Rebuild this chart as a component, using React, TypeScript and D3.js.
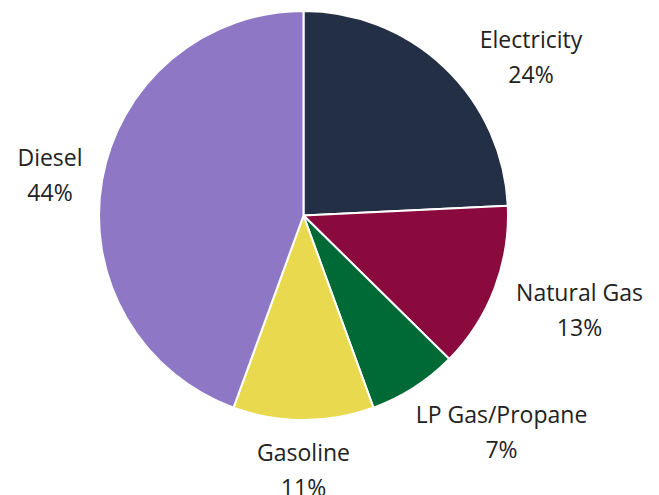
import React from "react";
import * as d3 from "d3";

const categories = ["Electricity", "Natural Gas", "LP Gas/Propane", "Gasoline", "Diesel"];
const values = [24, 13, 7, 11, 44];
const percentLabels = ["24%", "13%", "7%", "11%", "44%"];
const colors = ["#222f45", "#8a0a3e", "#006a36", "#e8d94f", "#8e78c6"];

// label anchor offsets from the pie centre (layout only)
const labelOffsets: [number, number][] = [
  [227.5, -167.5],
  [276, 85.5],
  [198, 207.5],
  [0, 245.5],
  [-253.5, -49.5],
];

const W = 659;
const H = 495;
const CX = 303.5;
const CY = 215.5;
const R = 204.5;
const LINE_GAP = 34.5;

export default function App() {
  const pie = d3.pie<number>().sort(null).value((d) => d);
  const arcs = pie(values);
  const arc = d3.arc<d3.PieArcDatum<number>>().innerRadius(0).outerRadius(R);

  return (
    <svg
      width={W}
      height={H}
      style={{ position: "absolute", left: 0, top: 0, background: "#fff" }}
      fontFamily="'Open Sans', 'Noto Sans', sans-serif"
    >
      <g transform={`translate(${CX},${CY})`}>
        {arcs.map((a, i) => (
          <path key={categories[i]} d={arc(a) || ""} fill={colors[i]} stroke="#ffffff" strokeWidth={2} strokeLinejoin="round" />
        ))}
        {arcs.map((a, i) => (
          <text key={"l" + i} textAnchor="middle" fontSize={23} fill="#222222">
            <tspan x={labelOffsets[i][0]} y={labelOffsets[i][1]}>{categories[i]}</tspan>
            <tspan x={labelOffsets[i][0]} y={labelOffsets[i][1] + LINE_GAP}>{percentLabels[i]}</tspan>
          </text>
        ))}
      </g>
    </svg>
  );
}
